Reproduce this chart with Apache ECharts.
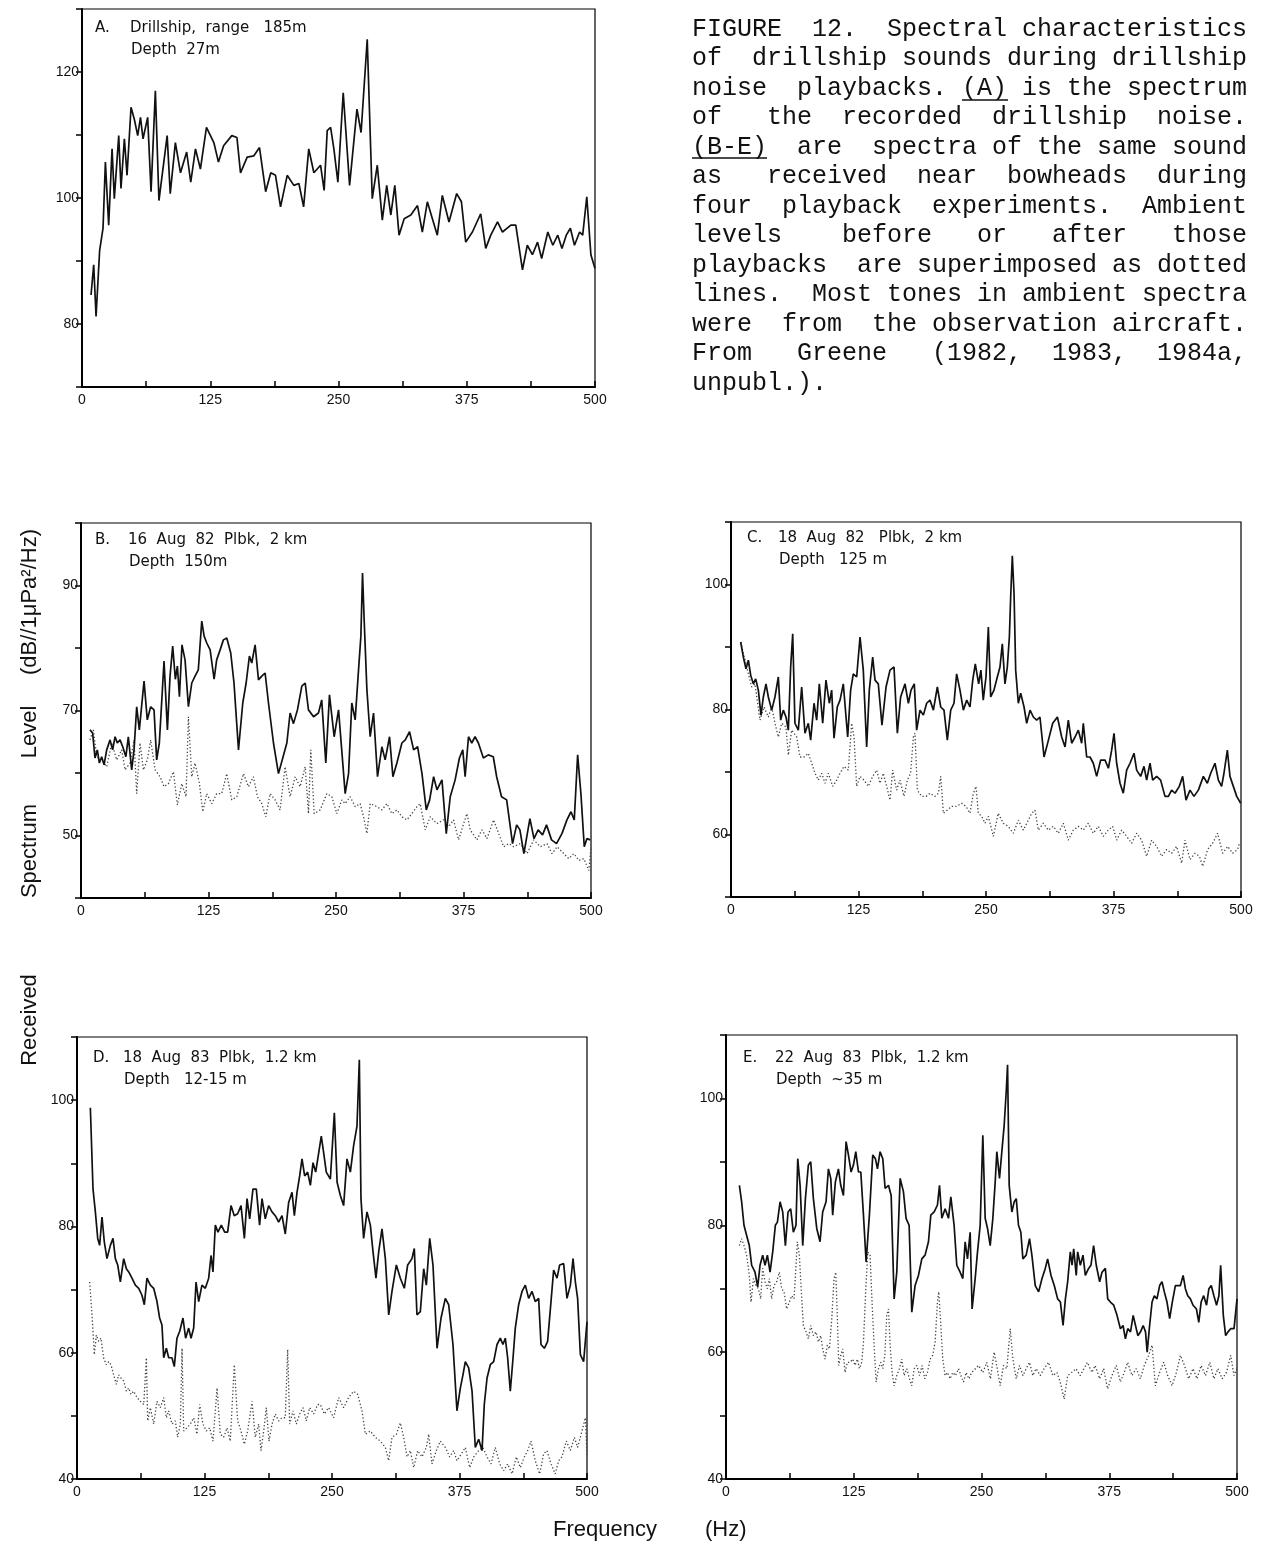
<!DOCTYPE html>
<html>
<head>
<meta charset="utf-8">
<title>Figure 12 - drillship playback spectra</title>
<script src="https://cdn.jsdelivr.net/npm/echarts@6/dist/echarts.min.js"></script>
<style>
  html, body { margin: 0; padding: 0; background: #fff; }
  #chart { width: 1263px; height: 1551px; }
</style>
</head>
<body>
<div id="chart"></div>
<script>
// frequency (Hz) / level (dB) pairs
var drillshipA = [[8.8,84.6],[11.4,89.4],[13.7,81.2],[17.2,91.7],[20.5,95.2],[22.8,105.7],[26,95.7],[29.3,107.8],[31.5,99.9],[35.8,109.9],[38,101.5],[41.3,109.4],[43.9,103.6],[47.8,114.4],[51,112.5],[54.3,109.9],[57,112.8],[59.5,109.4],[64,112.8],[67.3,101],[71.5,117],[75,99.6],[83,109.9],[86,100.7],[91,108.8],[96,104],[102,107.3],[106,102.5],[110.6,107.8],[115.4,104.6],[121.3,111.2],[128.5,108.8],[133,105.7],[138,108.3],[146,109.9],[151,109.6],[154.5,104],[161,106.5],[167.5,106.7],[173,108],[179,101],[184,104],[188.6,103.6],[193.5,98.6],[200,103.6],[206.5,102],[211.4,102.3],[216,98.6],[221,107.8],[226,104],[232.5,105.2],[236,101.2],[239,110.7],[242.3,111.2],[245.5,107.8],[249.4,102.5],[254.6,116.7],[260.8,102],[268,114.1],[272,110.4],[278,125.2],[282.9,99.9],[287.8,105.2],[292.7,96.5],[297,102],[301,97.3],[304.9,102],[309,94.1],[314,96.7],[320.5,97.3],[327,98.8],[331.7,94.6],[336.6,99.4],[341.5,96.7],[346.3,94.1],[351.2,100.4],[357.7,96.2],[365.2,100.7],[369.8,99.4],[374,93],[380.5,94.6],[388.6,97.5],[393.5,92],[398.4,94.1],[405,96.2],[409.8,94.6],[418,95.7],[422.8,95.7],[429.3,88.6],[434,92.5],[439,91],[444,93],[448,90.4],[454,94.6],[458.9,92.5],[463.7,94.1],[467.8,92],[472,94.1],[476,95.2],[480,92.5],[485,94.6],[488,94.1],[492,100.2],[496,91],[500,88.8]];

var playbackB = [[8.8,66.9],[11.4,66.4],[13.7,62.4],[16,63.7],[18,61.6],[20.3,62.6],[22.6,61.3],[25.2,63.7],[28.5,65.3],[31,63.7],[33.4,65.8],[35.6,64.8],[38.3,65.3],[40.9,64.2],[44,62.6],[46.4,65.8],[49.7,60.5],[52,63.7],[54.6,70.6],[57.2,66.9],[61.8,74.7],[65,68.5],[68.3,70.6],[71.6,70.1],[74.2,62.1],[76.8,64.8],[81.4,77.9],[84.7,66.9],[87.3,75.5],[89.9,80.3],[92.5,75],[94.5,77.1],[96.5,72.2],[99,80.5],[102,78.1],[105.3,70.6],[108.6,74.4],[111.8,75.5],[115,76.5],[118.4,84.3],[120.7,81.9],[123.3,80.8],[126.6,79.7],[130.5,75],[133,78.1],[136.4,79.7],[139.6,81.3],[142.9,81.6],[146.8,79.2],[150,74.4],[154.4,63.7],[158.6,71.2],[161.9,74.4],[165.1,78.7],[167.4,77.6],[170.7,80.5],[174,74.9],[177.2,75.5],[180.5,76],[183.8,71.2],[188.7,64.8],[193.6,59.9],[197.8,62.4],[201.8,64.8],[205,69.6],[208.3,67.9],[212.2,70.1],[216.5,73.9],[219.8,74.4],[223,70.1],[228,69],[232.8,69.6],[236,71.7],[240,61.6],[243.6,72.5],[248.2,65.8],[252.5,70.1],[259,56.7],[262.3,59.9],[265.5,71.2],[268.8,68.5],[272.1,76.5],[274.4,81.9],[276,92],[277.6,84.5],[280.3,73.3],[283.5,65.8],[286.8,69.6],[290.7,59.4],[295,64.2],[298.2,62.1],[302.5,65.8],[305.8,59.4],[309.7,61.6],[314.6,64.8],[317.9,65.3],[322.1,66.6],[326.1,63.7],[330,64.2],[334.3,59.9],[338.5,54.1],[341.8,55.7],[345.7,59.4],[349,57.3],[353.9,58.9],[358.1,50.3],[362,56.2],[366.8,58.9],[371,62.4],[374.3,63.7],[376.6,59.4],[379.9,65.8],[383.1,64.8],[386.3,65.8],[389.6,64.8],[394.5,62.4],[399.3,62.9],[404.2,62.6],[407.5,59.4],[412.3,56.2],[417.3,55.7],[423.1,48.7],[427.1,51.7],[430.3,50.9],[434.2,47.1],[440.1,52.7],[444.1,49.5],[448.2,50.9],[452.5,50.1],[456.4,51.7],[461.3,49.3],[466.2,48.7],[471.5,50.3],[476.4,52.5],[480.4,53.8],[483.6,52.5],[486.9,62.9],[490.1,56.7],[493.4,48.2],[496,49.5],[499.3,49.3]];
var ambientB = [[8.8,65.3],[12.1,66.9],[15.4,62.6],[20.3,62.1],[25.2,61],[30.1,64.8],[35,62.1],[39.9,63.7],[43.2,60.5],[48.1,61.6],[52,65.3],[54.6,56.7],[57.9,64.8],[61.2,60.5],[65,62.1],[68.3,65.3],[72.6,60.5],[77.5,59.4],[81.4,57.8],[85.7,58.3],[90.6,60.2],[94.5,54.9],[98.8,58.3],[103,56.2],[105.3,69],[108.6,59.4],[111.8,61.6],[116.1,58.3],[119.4,53.8],[123.3,56.7],[128.2,55.1],[133,56.7],[138,56.7],[142.9,59.9],[147.8,55.7],[152.7,56.2],[159.3,59.9],[164.2,57.8],[169,59.4],[173,56.2],[177.2,55.1],[181.2,53],[185.4,56.7],[190.3,55.7],[195.2,54.1],[200.1,61],[205,56.2],[210,59.4],[214.8,57.8],[219.8,61],[223,53.5],[225.3,63.7],[228.6,53.5],[234.5,54.1],[241,56.7],[245.9,56.2],[250.8,53.5],[255.7,55.7],[259,55.1],[263.9,56.2],[268.8,54.6],[273.7,55.1],[277,53],[280.3,50.3],[283.5,55.1],[290.1,54.6],[295,54.1],[299.9,55.1],[304.8,53.5],[309.7,54.1],[314.6,53],[319.5,52.5],[324.4,53.5],[329.3,54.6],[332.5,55.1],[337.5,50.9],[342.4,53],[348.9,51.9],[355.5,52.5],[360.4,51.4],[365.2,52.5],[370.2,49.3],[375.1,51.9],[378.4,53.5],[381.6,50.9],[388.2,49.3],[393.1,50.9],[398,49.5],[404.5,52.5],[409.5,50.3],[414.4,48.2],[419.3,48.7],[424.2,48.2],[430.8,48.7],[437.3,47.1],[443.8,49.3],[450.4,48.2],[456.9,48.7],[461.8,47.1],[466.8,48.2],[473.3,47.1],[478.2,46.3],[483.1,47.1],[488.1,46],[493,46.3],[497.9,44.4],[500,48.2]];

var playbackC = [[9.5,90.8],[12.1,88.4],[14.7,86.5],[17,87.9],[19.3,85.5],[21.9,84.1],[24.2,84.9],[26.8,83.1],[29.4,79.1],[31.7,82],[34.3,84.1],[36.6,82],[39.9,79.9],[43.1,82],[46.4,85.2],[48.7,78.3],[51.3,79.9],[53.9,78.8],[56.2,76.7],[58.5,86.8],[60.5,92.1],[62.7,77.8],[66,76.7],[69.3,83.6],[72.5,76.2],[75.8,77.8],[78.1,75.1],[81.4,81],[84,78.3],[86.6,84.1],[89.9,77.8],[93.1,84.7],[96.4,81],[98.7,83.1],[101,75.4],[104.2,80.4],[106.9,81.5],[110.1,84.1],[114.4,75.6],[117.3,83.1],[119.9,85.7],[123.2,85.2],[126.5,91.6],[129.7,86.3],[133,74],[135.6,83.1],[138.9,88.4],[141.2,84.7],[144.4,84.1],[148,77.5],[152,83.6],[155.9,86.3],[159.8,86.8],[163.1,76.2],[166.3,82],[170.6,84.1],[173.9,81],[176.5,83.1],[179.7,84.1],[182,76.7],[185.3,79.9],[188.6,79.1],[191.8,81],[195.1,81.5],[198.4,79.9],[202.3,83.6],[205.6,80.4],[208.8,79.9],[212.1,75.1],[215.4,79.9],[218.6,81],[221.2,85.7],[224.5,83.1],[227.8,79.9],[231.1,81.5],[234.3,80.4],[237,84.7],[239.5,87.3],[242.8,84.1],[245,86.3],[247.3,81.5],[250,85.2],[252.3,93.2],[254.6,82],[257.8,83.1],[261.1,85.2],[263.7,86.8],[266,90.5],[268.6,84.1],[270.9,86.8],[272.9,91.6],[274.2,98],[275.8,104.6],[277.5,98.5],[279.1,86.3],[281.7,81],[284,82.6],[287.3,80.4],[289.9,77.8],[293.2,79.9],[296.4,78.8],[299.7,78.3],[302.9,78.8],[306.9,72.4],[311.2,75.1],[315.4,77.8],[320,78.8],[324.2,75.6],[327.5,74],[330.7,78.3],[334,74.6],[337.3,75.6],[340.5,76.7],[343.8,74.6],[345.4,77.8],[348.7,72.4],[352,72.4],[355.2,71.4],[358.5,69.3],[362.4,71.9],[366.7,71.9],[370,70.6],[373.2,73.5],[375.5,76.2],[378.1,71.4],[381.4,68.2],[384.6,66.6],[387.9,70.3],[391.2,71.4],[395.1,73],[397.7,70.3],[401.6,69.3],[404.9,70.9],[407.5,68.7],[410.8,71.4],[413.4,68.7],[417.3,69.3],[421.2,68.7],[425.5,66.1],[428.8,66.1],[432,67.1],[435.3,66.6],[439.5,67.7],[442.8,69.3],[446.1,65.5],[450,67.1],[453.9,66.1],[458.2,67.1],[463.1,69.3],[467,68.2],[470.3,69.8],[474.5,71.4],[477.8,68.7],[481,67.7],[483.3,69.8],[486.6,73.5],[489.2,69.3],[492.5,67.7],[495.8,66.1],[499.7,65]];
var ambientC = [[9.5,90.8],[15.4,86.8],[20.3,83.6],[23.5,84.1],[28.4,78.3],[32.4,80.4],[36.6,78.8],[39.9,80.4],[43.1,77.8],[46.4,75.6],[49.7,77.8],[53.9,77.2],[56.2,72.7],[59.5,76.7],[64.4,75.6],[67.6,72.4],[71.6,72.4],[75.8,73],[79.1,71.4],[82.4,69.8],[85.6,68.7],[88.9,69.8],[92.2,68.2],[95.4,69.8],[99.7,67.7],[103.6,68.7],[106.9,69.8],[110.8,70.9],[115,70.3],[118.3,77.8],[120.6,75.6],[123.2,67.7],[126.5,69.3],[130.4,68.7],[134.6,67.7],[138.9,69.3],[142.8,70.3],[146.1,68.2],[149.3,69.8],[152.6,67.7],[155.9,65.5],[158.5,70.3],[162.4,67.1],[165.7,68.7],[169.6,66.1],[172.9,68.7],[176.1,69.8],[178.8,75.6],[180.4,76.2],[182.7,67.1],[186.9,66.1],[191.2,66.1],[195.1,66.6],[200,66.1],[203.3,66.6],[205.6,69.3],[208.2,63.4],[212.1,63.9],[216.3,64.5],[221.2,64.5],[226.1,65],[230.4,64.5],[234.3,63.4],[237.6,66.6],[240.2,67.7],[242.5,63.4],[245.8,62.9],[249,61.8],[252.3,62.9],[257.2,59.7],[262,63.4],[266.9,61.8],[271.8,61.3],[276.8,60.2],[281.7,62.3],[286.6,60.7],[291.5,62.3],[294.8,63.4],[298,63.9],[301.3,60.7],[306.2,61.8],[311.1,60.7],[316,61.3],[320.9,60.2],[325.8,61.8],[330.7,59.1],[335.6,60.7],[340.5,61.3],[345.4,60.7],[350.3,61.8],[355.2,60.2],[360.1,61.3],[365,59.7],[369.9,60.7],[374.2,61.3],[378.1,59.1],[383,60.7],[387.9,59.7],[392.8,58.6],[397.7,60.2],[402.6,59.1],[407.5,56.5],[412.4,59.1],[417.3,58.1],[422.2,56.5],[427.1,57.6],[432,57],[436.9,58.1],[441.8,55.4],[445.1,59.1],[450,56],[454.9,57],[459.3,56.5],[462.5,54.9],[467.3,57.6],[472.2,58.6],[477.1,60.2],[482,57],[487,58.1],[491.8,57],[496.7,57.6],[498.4,58.6]];

var playbackD = [[13.1,98.8],[15.7,85.9],[18,82.3],[20.3,78.1],[22.2,77],[24.5,81.5],[26.8,77.5],[29.4,74.9],[32.7,77],[35.3,78.1],[37.6,74.9],[39.9,73.9],[42.5,71.2],[45.8,74.9],[48.4,73.3],[50.7,72.8],[53.9,71.8],[57.2,70.7],[60.5,70.2],[63.7,69.1],[66,67.6],[68.6,71.8],[71.9,70.7],[75.2,70.2],[78.4,68.1],[81,65.5],[83.3,64.4],[85,59.2],[87.6,60.7],[89.9,59.2],[93.1,59.2],[95.4,57.8],[98,62.3],[100.7,63.4],[103.9,65.5],[106.5,62.3],[109.5,63.9],[111.8,62.3],[114.4,63.9],[116.7,71.2],[119.3,68.1],[122.5,70.7],[125.8,70.2],[129.1,71.8],[131.4,75.4],[133.3,72.8],[135.6,80.2],[138.2,79.1],[141.5,80.2],[144.8,79.1],[147.7,79.1],[151,83.3],[154.2,81.7],[157.5,82],[160.8,83.3],[164.1,78.1],[166.7,84.4],[169.3,81.2],[172.5,85.9],[175.8,85.9],[179,80.2],[181.4,84.4],[184.6,81.2],[187.9,83.3],[191.2,82.3],[194.4,81.7],[197.7,80.7],[201,81.7],[204.2,78.8],[207.5,83.8],[210.8,85.4],[213.1,81.7],[215.7,85.4],[218.3,88],[220.6,90.7],[223.2,88],[226.1,88.6],[228.8,86.5],[231.4,90.1],[234,88.6],[237,91.7],[239.5,94.3],[241.8,91.7],[244.4,88.6],[248.4,87.5],[252.3,98],[255,87],[258.2,84.9],[261.4,83.3],[264.7,90.7],[268,88.6],[271.2,92.8],[274.5,95.9],[276.8,106.4],[278.4,84.4],[281,78.1],[284.3,82.3],[287.6,80.2],[290.2,76],[293.1,71.8],[295.8,76],[299,79.6],[302.3,74.9],[305.6,66],[308.8,69.7],[313.1,73.9],[317,71.8],[320.9,70.2],[324.2,73.9],[328.4,74.9],[330.7,76.5],[333.3,66],[336.6,66.5],[339.9,73.3],[342.5,70.7],[345.8,78.1],[349,73.9],[353,60.7],[356.9,65.5],[361.1,68.6],[364.4,67.6],[368.6,61.3],[372.5,50.8],[375.8,54.4],[378.4,56.5],[380.7,58.6],[384,57.6],[387.3,53.9],[390.5,45],[393.8,46.3],[397.1,44.5],[399.3,51.8],[402,56],[405.2,58.1],[408.5,58.6],[411.8,61.3],[415,62.3],[417.6,61.3],[419.9,62.3],[422.2,59.2],[424.8,53.9],[427.5,59.2],[429.7,63.9],[433,67.6],[436.3,69.7],[439.5,70.7],[442.8,68.6],[446.1,69.7],[449.3,68.1],[452.6,68.6],[454.9,61.3],[458.2,60.7],[461.4,61.8],[464.7,68.1],[467.3,73.1],[470.6,71.8],[473.2,73.9],[477.1,74.1],[480.4,68.6],[483.7,70.7],[486.3,74.9],[488.6,71.2],[490.8,68.6],[493.5,59.7],[496.7,58.6],[500,64.9]];
var ambientD = [[12.4,71.2],[14.7,66],[17,59.7],[19,62.8],[21.2,61.8],[23.5,62.3],[26.1,59.2],[28.8,58.1],[31,58.6],[33.3,58.1],[35.9,56.5],[38.6,55],[40.8,56.5],[43.1,56],[45.8,55.5],[48.4,53.9],[50.7,54.4],[52.9,53.4],[55.6,53.9],[58.8,52.9],[62.1,52.3],[65.4,51.8],[68,59.2],[69.3,49.2],[71.9,51.3],[75.2,48.7],[78.4,52.3],[81.7,51.3],[85,52.9],[87.6,49.7],[89.9,50.8],[93.1,48.7],[96.4,49.2],[98.7,46.6],[101.3,48.7],[103,60.7],[104.6,47.6],[107.8,48.1],[111.1,48.7],[114.4,49.7],[117.6,47.1],[120.3,51.8],[123.5,48.7],[126.8,47.6],[130.1,48.1],[133.3,46],[137.3,54.4],[140.5,47.1],[143.8,46.6],[147.1,48.1],[150.3,46],[154.2,58.1],[157.5,49.2],[160.8,47.6],[164.1,45.5],[167.3,47.6],[171.6,52.3],[174.8,46.6],[178.1,48.7],[180.4,44.5],[183,47.6],[185.6,51.3],[188.2,46],[191.2,48.7],[194.4,50.3],[197.7,49.2],[201,49.7],[204.2,49.7],[206.5,60.5],[208.5,48.7],[211.8,50.8],[215,48.7],[218.3,50.3],[221.6,51.3],[224.8,49.2],[228.1,51.3],[232,50.3],[235.9,51.8],[238.6,51.8],[242.5,50.3],[246.7,51.3],[251.6,49.7],[256.5,52.9],[261.4,51.3],[266.3,52.9],[271.2,53.9],[275.2,53.4],[279.4,50.8],[282.7,47.1],[287.6,47.6],[292.5,46.6],[297.4,46],[302.3,45],[305.6,42.9],[308.8,46.6],[313.1,47.1],[317,48.9],[320.3,46.6],[323.5,43.5],[326.8,44.5],[330.1,41.8],[334,44.5],[338.2,43.5],[342.5,45],[344.8,47.1],[348,42.4],[352.3,44.5],[356.2,46],[361.1,45],[365.4,43.5],[369.3,44.5],[372.5,42.9],[376.5,43.9],[380.7,45],[385,41.8],[388.9,43.5],[393.8,44.5],[398,45],[402,43.5],[405.9,42.4],[410.1,45],[414.4,42.4],[418.3,41.3],[422.2,42.4],[426.5,40.8],[430.7,43.5],[434.6,41.8],[438.6,43.5],[441.8,44.5],[445.1,46],[449.3,42.9],[453.6,40.8],[457.5,44],[460.8,44.5],[464.7,42.4],[468.8,40.8],[472.2,42.9],[475.5,43.5],[479.7,46],[483.7,44.5],[487.6,46.6],[490.8,45],[495.1,47.6],[498.4,49.7],[500,43.5]];

var playbackE = [[13.1,86.3],[15.3,83.7],[17.6,80],[20.2,78.4],[22.8,76.8],[25.1,73.7],[28.4,72.6],[31,70.3],[33.3,73.7],[35.9,75.3],[38.2,73.7],[40.5,75.3],[43.1,72.6],[45.7,75.8],[48.3,80],[50.3,80.5],[52.9,83.7],[55.5,82.1],[58.1,76.8],[60.7,82.1],[63.3,82.6],[65.9,78.9],[68.5,80],[70.2,90.5],[72.5,86.3],[75.1,76.8],[77.7,84.2],[80.6,89.5],[82.9,90],[85.5,84.2],[88.8,79.5],[92,77.4],[94.6,82.1],[97.9,83.7],[100.2,88.9],[102.5,87.4],[104.4,81.6],[107,86.8],[110,88.9],[112.3,86.3],[114.9,84.7],[117.5,93.2],[119.8,91.1],[122.4,88.4],[124.7,89.5],[127,91.6],[129.6,88.4],[131.9,88.4],[134.5,81.6],[137.1,74.2],[140.3,81.6],[143.6,91.1],[146.2,90.5],[148.2,88.9],[150.8,91.6],[153.4,90.5],[155.7,85.8],[159,86.3],[161.6,84.7],[164.5,68.4],[167.1,72.6],[170.4,87.4],[173.6,85.3],[176.2,81.1],[179.2,80],[181.8,66.3],[185,70.5],[188.3,72.1],[191.6,74.7],[194.8,75.3],[198.1,77.4],[200.4,81.6],[203.7,82.1],[206.9,83.2],[208.9,86.3],[211.2,81.1],[214.4,82.6],[217.7,81.1],[220,84.5],[223.2,80],[225.8,73.7],[229.1,72.6],[231.7,71.6],[234,77.4],[236.3,74.7],[238.9,78.9],[240.8,66.8],[243.8,71.6],[246.1,75.8],[248.7,80],[251.3,94.2],[253.6,81.1],[255.9,79.5],[258.5,76.8],[261.1,81.1],[263.4,86.8],[265,91.6],[267.6,87.4],[269.9,91.6],[272.2,95.8],[274.2,101.1],[275.5,105.3],[277.1,86.3],[279.7,82.1],[282,83.7],[284,84.2],[286.2,80],[288.5,78.9],[290.5,74.7],[293.7,75.3],[297,77.9],[299.3,75.3],[302.6,70.5],[305.9,69.5],[309.2,71.6],[312.4,73.2],[314.7,74.7],[318,72.1],[321.2,70.5],[324.5,68.4],[327.2,67.9],[329.8,64.2],[332.1,68.4],[334.3,71.1],[336.9,75.8],[338.6,73.7],[340.2,76.3],[342.7,72.1],[344.1,75.8],[346.7,73.7],[349.3,75.3],[351.6,72.1],[354.8,73.2],[357.1,73.7],[359.7,76.8],[362.3,73.7],[365.6,71.1],[367.9,72.6],[371.2,73.2],[373.5,68.4],[376.1,67.9],[379.4,67.4],[382.6,65.8],[385.9,63.7],[388.5,64.2],[390.8,62.1],[393.1,63.7],[395.8,63.2],[398.4,65.8],[400.7,64.2],[403,62.6],[405.6,63.2],[408.2,64.2],[410.5,63.2],[412.1,60],[414.5,64.2],[416.9,67.9],[419.1,68.9],[421.7,68.4],[424.3,70.5],[426.6,71.1],[428.9,69.5],[431.5,67.9],[434.1,65.3],[436.7,67.9],[439.7,70.5],[442,70.5],[444.6,70.5],[447.3,72.1],[449.5,70],[451.8,68.9],[454.4,68.4],[457,67.4],[460.3,66.8],[462.6,64.7],[464.9,67.9],[467.4,68.9],[470.2,67.4],[472.5,70],[474.8,70.5],[477.4,68.9],[480,67.4],[482.3,68.9],[484,73.7],[486.6,65.8],[488.9,62.6],[491.2,63.2],[493.8,63.7],[497.1,63.7],[499,66.8],[500,68.4]];
var ambientE = [[13.1,76.8],[15.3,77.9],[17.6,76.8],[20.2,75.3],[22.8,72.1],[24.5,67.9],[26.8,71.6],[29.4,70.5],[31.7,70],[33.9,68.4],[35.9,73.2],[38.2,71.1],[40.5,70],[42.4,71.6],[44.7,68.4],[47,70.5],[49.6,71.1],[52.2,72.6],[54.5,70],[56.8,69.5],[59.4,66.8],[62,67.9],[64.3,68.9],[66.6,68.4],[68.5,73.7],[69.8,77.4],[71.8,75.3],[74.1,68.4],[75.7,64.2],[78.3,63.2],[80.6,62.1],[82.9,64.2],[85.5,62.6],[88.1,63.2],[90.4,61.6],[92.7,62.6],[94.6,60.5],[96.9,58.9],[99.2,61.1],[101.2,60.5],[103.5,65.3],[105.7,71.6],[107.4,72.6],[109,65.3],[110.3,57.9],[112.3,59.5],[114.2,60.5],[116.5,56.8],[118.8,58.4],[121.4,58.4],[124,58.9],[126.3,57.9],[128.6,58.9],[130.5,57.4],[132.8,58.4],[134.5,61.6],[136.7,69.5],[138.7,75.8],[141,75.3],[142.9,67.9],[144.9,61.1],[146.9,55.3],[149.2,57.4],[151.4,58.4],[153.4,57.4],[155.4,59.5],[157.3,65.8],[159,66.8],[160.6,61.1],[162.5,56.8],[164.5,54.7],[167.1,56.3],[169.7,57.4],[172,58.9],[174.3,56.3],[176.9,57.4],[179.5,55.8],[181.8,54.7],[184.1,57.4],[186.7,57.9],[189.3,56.3],[191.9,57.9],[194.5,55.8],[197.1,56.8],[199.7,58.9],[202.3,59.5],[204.6,61.6],[206.9,67.9],[208.2,69.5],[210.2,64.2],[212.1,58.9],[214.4,56.3],[216.7,56.8],[219.3,55.8],[221.9,56.8],[224.5,56.3],[227.5,57.4],[229.8,56.3],[232.4,55.3],[235,56.8],[237.6,55.8],[240.5,56.8],[242.2,56.8],[247.1,57.9],[251.3,56.8],[255.2,58.4],[258.7,55.8],[262.4,60],[265.4,57.4],[268.3,54.7],[271.5,57.9],[274.8,57.4],[278.1,63.7],[280.7,58.9],[284,55.8],[287.2,57.9],[290.5,56.3],[293.7,57.4],[297,58.4],[300.2,56.3],[303.5,57.4],[307.4,56.3],[311.3,57.4],[315.6,58.4],[319.8,56.3],[323.8,56.8],[327,55.3],[330.9,52.6],[334.3,56.3],[338.2,56.8],[342.5,57.4],[346.5,56.3],[350.3,57.4],[353.6,58.4],[358,56.8],[361.2,57.9],[365.6,55.8],[369.5,57.4],[373.4,54.2],[377.6,56.3],[381.9,57.9],[385.9,55.3],[389.7,56.8],[393,58.4],[397.2,56.3],[401.4,57.4],[405.4,55.8],[409.3,57.9],[413.6,59.5],[416.9,61.1],[420.1,54.7],[424.3,56.8],[428.3,58.4],[432.2,56.3],[436.5,54.7],[440.7,56.8],[444.6,59.5],[448.6,57.9],[452.7,55.8],[457,57.4],[460.8,55.8],[464.9,57.9],[469.2,56.3],[473.4,58.4],[477.4,55.8],[481.3,57.4],[485.5,55.8],[489.7,56.8],[493.8,59.5],[497.1,56.3],[499.7,57.4]];

// tick labels
var xLabels = [0, 125, 250, 375, 500];
var yLabelsA = [80, 100, 120];
var yLabelsB = [50, 70, 90];
var yLabelsC = [60, 80, 100];
var yLabelsD = [40, 60, 80, 100];
var yLabelsE = [40, 60, 80, 100];

// panel headings
var headA = ["Drillship,  range   185m", "Depth  27m"];
var headB = ["16  Aug  82  Plbk,  2 km", "Depth  150m"];
var headC = ["18  Aug  82   Plbk,  2 km", "Depth   125 m"];
var headD = ["18  Aug  83  Plbk,  1.2 km", "Depth   12-15 m"];
var headE = ["22  Aug  83  Plbk,  1.2 km", "Depth  ~35 m"];

var captionLines = [
  "FIGURE  12.  Spectral characteristics",
  "of  drillship sounds during drillship",
  "noise  playbacks. (A) is the spectrum",
  "of   the  recorded  drillship  noise.",
  "(B-E)  are  spectra of the same sound",
  "as   received  near  bowheads  during",
  "four  playback  experiments.  Ambient",
  "levels    before   or   after   those",
  "playbacks  are superimposed as dotted",
  "lines.  Most tones in ambient spectra",
  "were  from  the observation aircraft.",
  "From   Greene   (1982,  1983,  1984a,",
  "unpubl.)."
];

var SANS = '"Liberation Sans", Arial, sans-serif';
var WIDE = '"DejaVu Sans", "Liberation Sans", sans-serif';
var MONO = '"Liberation Mono", "Courier New", monospace';

// panel boxes: left, top, width, height, y min, y max
var panels = [
  { grid: [82, 9, 513, 378], min: 70, max: 130, labels: yLabelsA },
  { grid: [81, 523, 510, 375], min: 40, max: 100, labels: yLabelsB },
  { grid: [731, 522, 510, 375], min: 50, max: 110, labels: yLabelsC },
  { grid: [77, 1037, 510, 442], min: 40, max: 110, labels: yLabelsD },
  { grid: [726, 1035, 511, 444], min: 40, max: 110, labels: yLabelsE }
];

var grids = [], xAxes = [], yAxes = [];
panels.forEach(function (p, i) {
  grids.push({
    left: p.grid[0], top: p.grid[1], width: p.grid[2], height: p.grid[3],
    show: true, borderColor: "#000", borderWidth: 1.2, backgroundColor: "transparent"
  });
  xAxes.push({
    type: "value", gridIndex: i, min: 0, max: 500, interval: 62.5,
    axisLine: { onZero: false, lineStyle: { color: "#000", width: 2 } },
    axisTick: { inside: true, length: 6, lineStyle: { color: "#000", width: 1.5 } },
    axisLabel: {
      color: "#111", fontSize: 14, fontFamily: SANS, margin: 6,
      showMinLabel: true, showMaxLabel: true,
      formatter: function (v) { return xLabels.indexOf(v) >= 0 ? String(v) : ""; }
    },
    splitLine: { show: false }
  });
  yAxes.push({
    type: "value", gridIndex: i, min: p.min, max: p.max, interval: 10,
    axisLine: { onZero: false, lineStyle: { color: "#000", width: 2 } },
    axisTick: { inside: false, length: 6, lineStyle: { color: "#000", width: 1.5 } },
    axisLabel: {
      color: "#111", fontSize: 14, fontFamily: SANS, margin: 3,
      showMinLabel: true, showMaxLabel: true,
      formatter: function (v) { return p.labels.indexOf(v) >= 0 ? String(v) : ""; }
    },
    splitLine: { show: false }
  });
});

function solid(data, i) {
  return {
    type: "line", xAxisIndex: i, yAxisIndex: i, data: data,
    showSymbol: false, symbol: "none", silent: true,
    lineStyle: { color: "#111", width: 1.7 }
  };
}
function dotted(data, i) {
  return {
    type: "line", xAxisIndex: i, yAxisIndex: i, data: data,
    showSymbol: false, symbol: "none", silent: true, z: 1,
    lineStyle: { color: "#444", width: 1.3, type: [1.3, 2.2] }
  };
}

var series = [
  solid(drillshipA, 0),
  dotted(ambientB, 1), solid(playbackB, 1),
  dotted(ambientC, 2), solid(playbackC, 2),
  dotted(ambientD, 3), solid(playbackD, 3),
  dotted(ambientE, 4), solid(playbackE, 4)
];

function txt(x, y, s, font, extra) {
  var el = {
    type: "text", x: x, y: y, silent: true,
    style: { text: s, font: font, fill: "#111", textAlign: "left", textVerticalAlign: "middle" }
  };
  if (extra) {
    for (var k in extra) el[k] = extra[k];
  }
  return el;
}

var graphics = [];
// panel headings
[
  { letter: "A.", lx: 95, tx: 130, y: 28, lines: headA },
  { letter: "B.", lx: 95, tx: 128, y: 540, lines: headB },
  { letter: "C.", lx: 747, tx: 778, y: 538, lines: headC },
  { letter: "D.", lx: 93, tx: 123, y: 1058, lines: headD },
  { letter: "E.", lx: 743, tx: 775, y: 1058, lines: headE }
].forEach(function (h) {
  graphics.push(txt(h.lx, h.y, h.letter, "15px " + WIDE));
  graphics.push(txt(h.tx, h.y, h.lines[0], "15px " + WIDE));
  graphics.push(txt(h.tx + 1, h.y + 22, h.lines[1], "15px " + WIDE));
});

// caption at top right
captionLines.forEach(function (line, i) {
  graphics.push(txt(692, 29 + i * 29.5, line, "25px " + MONO));
});
graphics.push({ type: "line", silent: true, shape: { x1: 962, y1: 100, x2: 1008, y2: 100 }, style: { stroke: "#111", lineWidth: 1.5 } });
graphics.push({ type: "line", silent: true, shape: { x1: 692, y1: 158, x2: 767, y2: 158 }, style: { stroke: "#111", lineWidth: 1.5 } });

// shared axis titles
var rot = { rotation: Math.PI / 2 };
[["Received", 1020], ["Spectrum", 851], ["Level", 732], ["(dB//1\u03BCPa\u00B2/Hz)", 602]].forEach(function (w) {
  var el = txt(30, w[1], w[0], "22px " + SANS, rot);
  el.style.textAlign = "center";
  graphics.push(el);
});
graphics.push(txt(553, 1530, "Frequency", "22px " + SANS));
graphics.push(txt(705, 1530, "(Hz)", "22px " + SANS));

var chart = echarts.init(document.getElementById("chart"), null, { renderer: "canvas" });
chart.setOption({
  animation: false,
  backgroundColor: "#fff",
  grid: grids,
  xAxis: xAxes,
  yAxis: yAxes,
  series: series,
  graphic: graphics
});
window.addEventListener("resize", function () { chart.resize(); });
</script>
</body>
</html>
